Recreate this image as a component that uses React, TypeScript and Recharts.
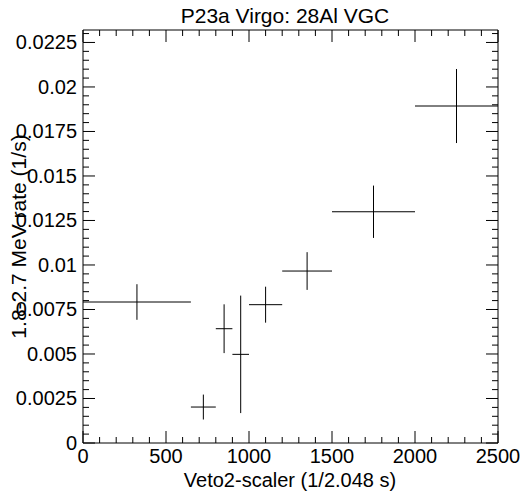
import { ScatterChart, Scatter, XAxis, YAxis, ErrorBar, ReferenceArea } from "recharts";

// bins of the veto2 scaler and the 1.8-2.7 MeV rate in each
const binCenters = [325, 725, 850, 950, 1100, 1350, 1750, 2250];
const binHalfWidths = [325, 75, 50, 50, 100, 150, 250, 250];
const rates = [0.00792, 0.00202, 0.00642, 0.00498, 0.00777, 0.00966, 0.01299, 0.01893];
const rateErrors = [0.001, 0.0007, 0.00137, 0.0033, 0.00101, 0.00106, 0.00147, 0.00208];

const xMajorTicks = [0, 500, 1000, 1500, 2000, 2500];
const xTickLabels = ["0", "500", "1000", "1500", "2000", "2500"];
const yMajorTicks = [0, 0.0025, 0.005, 0.0075, 0.01, 0.0125, 0.015, 0.0175, 0.02, 0.0225];
const yTickLabels = ["0", "0.0025", "0.005", "0.0075", "0.01", "0.0125", "0.015", "0.0175", "0.02", "0.0225"];

const X_MAX = 2500;
const Y_MAX = 0.0232;

const W = 523;
const H = 494;
const PLOT_LEFT = 83;
const PLOT_RIGHT = 498;
const PLOT_TOP = 30;
const PLOT_BOTTOM = 443;

const FONT = "'Liberation Sans', Arial, Helvetica, sans-serif";

const points = binCenters.map((x, i) => ({
  x,
  xe: binHalfWidths[i],
  y: rates[i],
  ye: rateErrors[i],
}));

function withMinors(majors: number[], step: number, max: number) {
  const out: number[] = [];
  majors.forEach((m) => {
    for (let k = 0; k < 5; k++) {
      const v = Number((m + k * step).toFixed(6));
      if (v <= max + 1e-9) out.push(v);
    }
  });
  return out;
}

const xTicks = withMinors(xMajorTicks, 100, X_MAX);
const yTicks = withMinors(yMajorTicks, 0.0005, Y_MAX);

function majorIndex(list: number[], v: number) {
  return list.findIndex((t) => Math.abs(t - v) < 1e-7);
}

function XTick(props: any) {
  const { x, y, payload } = props;
  const i = majorIndex(xMajorTicks, payload.value);
  const len = i >= 0 ? 12 : 6;
  return (
    <g>
      <line x1={x} y1={y} x2={x} y2={y - len} stroke="#000" />
      <line x1={x} y1={PLOT_TOP} x2={x} y2={PLOT_TOP + len} stroke="#000" />
      {i >= 0 && (
        <text x={x} y={463} textAnchor="middle" fontSize={20} fontFamily={FONT} fill="#000">
          {xTickLabels[i]}
        </text>
      )}
    </g>
  );
}

function YTick(props: any) {
  const { x, y, payload } = props;
  const i = majorIndex(yMajorTicks, payload.value);
  const len = i >= 0 ? 12 : 6;
  return (
    <g>
      <line x1={x} y1={y} x2={x + len} y2={y} stroke="#000" />
      <line x1={PLOT_RIGHT} y1={y} x2={PLOT_RIGHT - len} y2={y} stroke="#000" />
      {i >= 0 && (
        <text x={77} y={y + 7} textAnchor="end" fontSize={20} fontFamily={FONT} fill="#000">
          {yTickLabels[i]}
        </text>
      )}
    </g>
  );
}

export default function App() {
  return (
    <div style={{ position: "absolute", left: 0, top: 0, background: "#fff" }}>
      <ScatterChart
        width={W}
        height={H}
        margin={{ top: PLOT_TOP, right: W - PLOT_RIGHT, bottom: 0, left: 0 }}
      >
        <XAxis
          type="number"
          dataKey="x"
          domain={[0, X_MAX]}
          ticks={xTicks}
          interval={0}
          allowDataOverflow
          height={H - PLOT_BOTTOM}
          tickSize={0}
          tickMargin={0}
          tickLine={false}
          axisLine={false}
          tick={<XTick />}
          label={{
            content: () => (
              <text x={290} y={487} textAnchor="middle" fontSize={20} fontFamily={FONT} fill="#000">
                Veto2-scaler (1/2.048 s)
              </text>
            ),
          }}
        />
        <YAxis
          type="number"
          dataKey="y"
          domain={[0, Y_MAX]}
          ticks={yTicks}
          interval={0}
          allowDataOverflow
          width={PLOT_LEFT}
          tickSize={0}
          tickMargin={0}
          tickLine={false}
          axisLine={false}
          tick={<YTick />}
          label={{
            content: () => (
              <g>
                <text
                  x={26}
                  y={236.5}
                  transform="rotate(-90, 26, 236.5)"
                  textAnchor="middle"
                  fontSize={21}
                  fontFamily={FONT}
                  fill="#000"
                >
                  1.8-2.7 MeV rate (1/s)
                </text>
                <text x={285} y={23} textAnchor="middle" fontSize={21} fontFamily={FONT} fill="#000">
                  P23a Virgo: 28Al VGC
                </text>
              </g>
            ),
          }}
        />
        <ReferenceArea
          x1={0}
          x2={X_MAX}
          y1={0}
          y2={Y_MAX}
          fill="none"
          fillOpacity={0}
          stroke="#000"
          strokeWidth={1}
        />
        <Scatter data={points} shape={() => <g />} isAnimationActive={false}>
          <ErrorBar dataKey="xe" direction="x" width={0} stroke="#000" strokeWidth={1} isAnimationActive={false} />
          <ErrorBar dataKey="ye" direction="y" width={0} stroke="#000" strokeWidth={1} isAnimationActive={false} />
        </Scatter>
      </ScatterChart>
    </div>
  );
}
